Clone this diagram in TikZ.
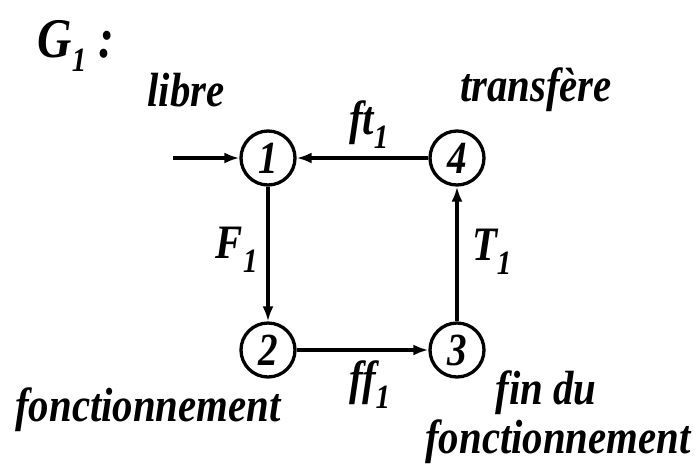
\documentclass[tikz,border=0pt]{standalone}
\usepackage{fontspec}
\setmainfont{Liberation Serif}
\newfontfamily\cf[FakeStretch=0.85]{Liberation Serif}
\usetikzlibrary{arrows.meta}
\newcommand{\sub}[1]{\textsubscript{\fontsize{34}{36}\selectfont #1}}
\begin{document}
\begin{tikzpicture}[x=1pt,y=-1pt,
  lbl/.style={font=\cf\fontsize{48}{52}\selectfont\bfseries\itshape, inner sep=0pt},
  state/.style={circle, draw, line width=3.3pt, minimum size=54pt, inner sep=0pt,
     font=\cf\fontsize{46}{50}\selectfont\bfseries\itshape},
  arr/.style={line width=3.3pt, -{Latex[length=15pt,width=11pt]}}]
\useasboundingbox (0,0) rectangle (698,464);
\node[state] (n1) at (268,158) {1};
\node[state] (n4) at (457,158) {4};
\node[state] (n2) at (268,350) {2};
\node[state] (n3) at (457,350) {3};
\coordinate (in) at (173,158);
\draw[arr] (in) -- (n1);
\draw[arr] (n1) -- (n2);
\draw[arr] (n2) -- (n3);
\draw[arr] (n3) -- (n4);
\draw[arr] (n4) -- (n1);
\node[lbl, font=\cf\fontsize{56}{60}\selectfont\bfseries\itshape] (g) at (76,46) {G\sub{1} :};
\node[lbl] (libre) at (186,90) {libre};
\node[lbl] (transfere) at (536,90) {transfère};
\node[lbl] (ft) at (369,125) {ft\sub{1}};
\node[lbl] (F) at (237,250) {F\sub{1}};
\node[lbl] (T) at (492,252) {T\sub{1}};
\node[lbl] (ff) at (370,385) {ff\sub{1}};
\node[lbl] (fonc) at (148,410) {fonctionnement};
\node[lbl] (findu) at (546,393) {fin du};
\node[lbl] (fonc2) at (558,442) {fonctionnement};
\end{tikzpicture}
\end{document}
